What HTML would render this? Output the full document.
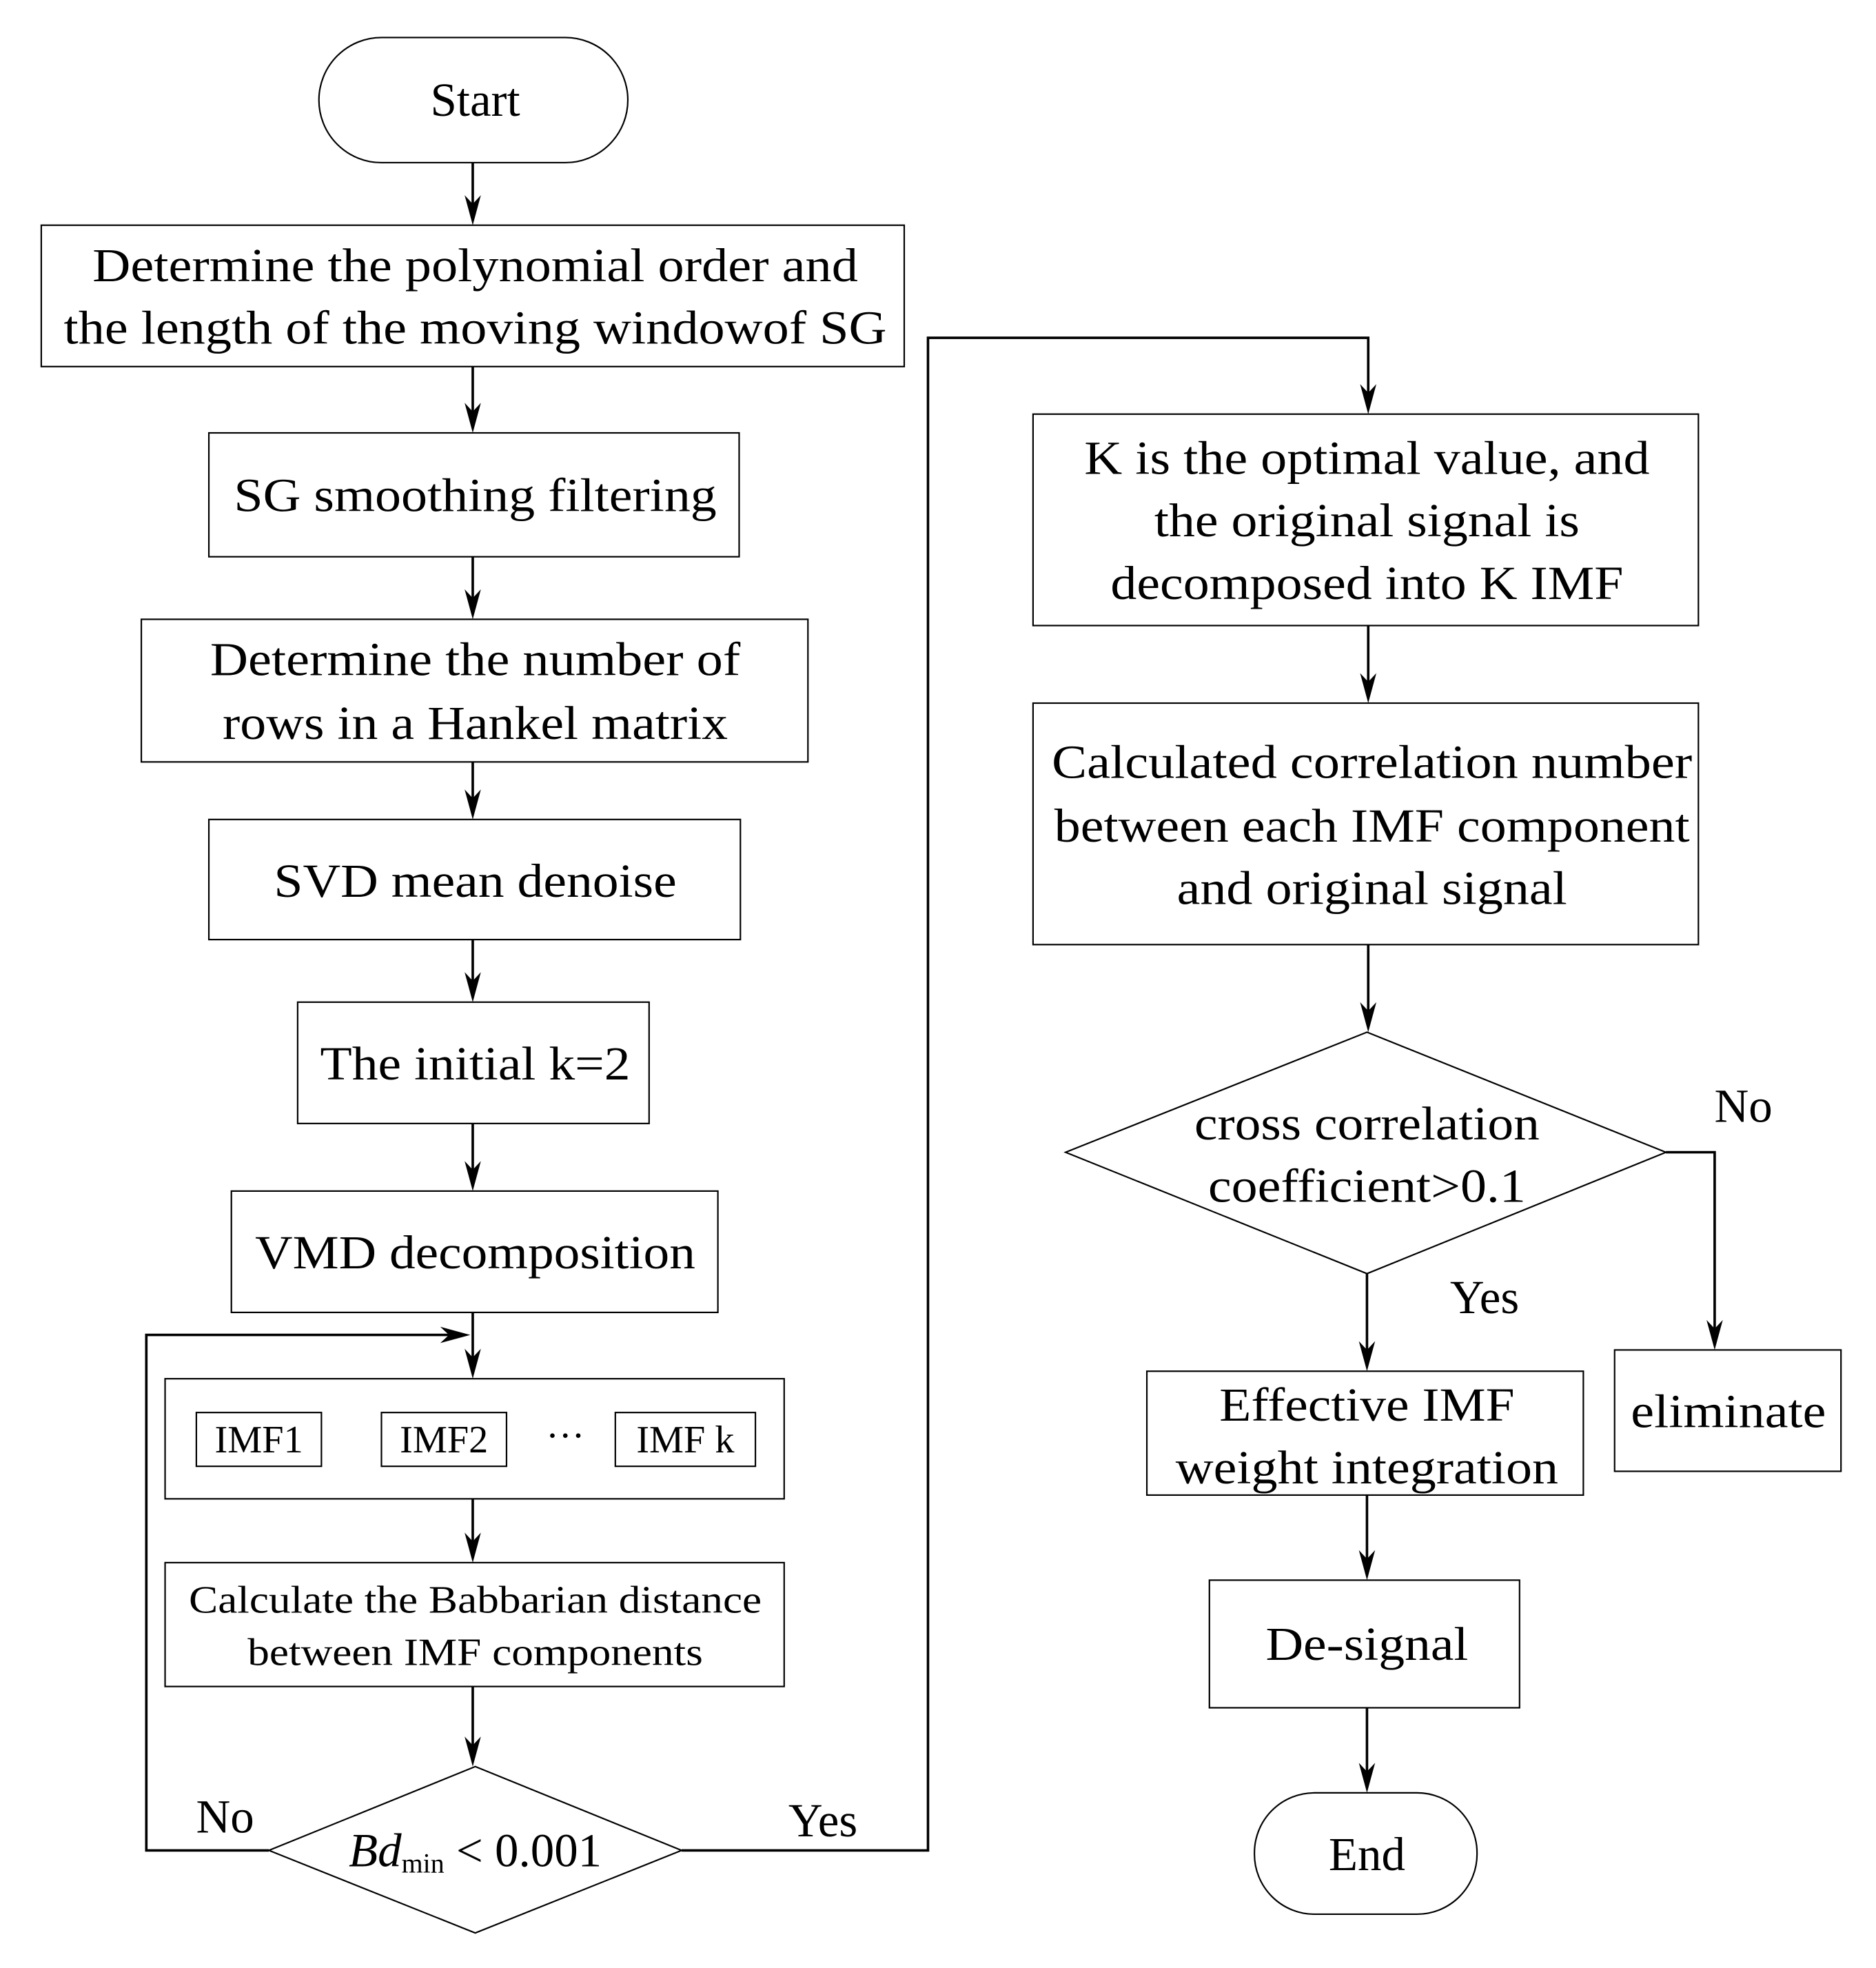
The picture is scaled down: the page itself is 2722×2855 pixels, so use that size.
<!DOCTYPE html>
<html><head><style>html,body{margin:0;padding:0;background:#fff}svg{display:block}</style></head>
<body>
<svg width="2722" height="2855" viewBox="0 0 1500 1573" preserveAspectRatio="none" xmlns="http://www.w3.org/2000/svg" xmlns:xlink="http://www.w3.org/1999/xlink" style="font-family:'Liberation Serif',serif" fill="#000">
<defs>
<path id="d" d="M-6.5 -24 L0 0 L6.5 -24 L0 -17 Z" fill="#000"/>
<path id="rt" d="M-24 -6.5 L0 0 L-24 6.5 L-17 0 Z" fill="#000"/>
</defs>
<g fill="none" stroke="#000" stroke-width="1.2">
<rect x="255" y="30" width="247" height="100" rx="50"/>
<rect x="33" y="180" width="690" height="113"/>
<rect x="167" y="346" width="424" height="99"/>
<rect x="113" y="495" width="533" height="114"/>
<rect x="167" y="655" width="425" height="96"/>
<rect x="238" y="801" width="281" height="97"/>
<rect x="185" y="952" width="389" height="97"/>
<rect x="132" y="1102" width="495" height="96"/>
<rect x="157" y="1129" width="100" height="43"/>
<rect x="305" y="1129" width="100" height="43"/>
<rect x="492" y="1129" width="112" height="43"/>
<rect x="132" y="1249" width="495" height="99"/>
<polygon points="380,1412 545,1479 380,1545 215,1479"/>
<rect x="826" y="331" width="532" height="169"/>
<rect x="826" y="562" width="532" height="193"/>
<polygon points="1093,825 1332,921 1093,1018 852,921"/>
<rect x="1291" y="1079" width="181" height="97"/>
<rect x="917" y="1096" width="349" height="99"/>
<rect x="967" y="1263" width="248" height="102"/>
<rect x="1003" y="1433" width="178" height="97" rx="48"/>
</g>
<g fill="none" stroke="#000" stroke-width="2">
<line x1="378" y1="130" x2="378" y2="170"/>
<line x1="378" y1="293" x2="378" y2="336"/>
<line x1="378" y1="445" x2="378" y2="485"/>
<line x1="378" y1="609" x2="378" y2="645"/>
<line x1="378" y1="751" x2="378" y2="791"/>
<line x1="378" y1="898" x2="378" y2="942"/>
<line x1="378" y1="1049" x2="378" y2="1092"/>
<polyline points="215,1479 117,1479 117,1067 368,1067"/>
<line x1="378" y1="1198" x2="378" y2="1239"/>
<line x1="378" y1="1348" x2="378" y2="1402"/>
<polyline points="545,1479 742,1479 742,270 1094,270 1094,321"/>
<line x1="1094" y1="500" x2="1094" y2="552"/>
<line x1="1094" y1="755" x2="1094" y2="815"/>
<polyline points="1332,921 1371,921 1371,1069"/>
<line x1="1093" y1="1018" x2="1093" y2="1086"/>
<line x1="1093" y1="1195" x2="1093" y2="1253"/>
<line x1="1093" y1="1365" x2="1093" y2="1423"/>
</g>
<use xlink:href="#d" x="378" y="180"/>
<use xlink:href="#d" x="378" y="346"/>
<use xlink:href="#d" x="378" y="495"/>
<use xlink:href="#d" x="378" y="655"/>
<use xlink:href="#d" x="378" y="801"/>
<use xlink:href="#d" x="378" y="952"/>
<use xlink:href="#d" x="378" y="1102"/>
<use xlink:href="#rt" x="376" y="1067"/>
<use xlink:href="#d" x="378" y="1249"/>
<use xlink:href="#d" x="378" y="1412"/>
<use xlink:href="#d" x="1094" y="331"/>
<use xlink:href="#d" x="1094" y="562"/>
<use xlink:href="#d" x="1094" y="825"/>
<use xlink:href="#d" x="1371" y="1079"/>
<use xlink:href="#d" x="1093" y="1096"/>
<use xlink:href="#d" x="1093" y="1263"/>
<use xlink:href="#d" x="1093" y="1433"/>
<g font-size="38" text-anchor="middle" dominant-baseline="central">
<text x="380" y="80">Start</text>
<text x="380" y="212" textLength="612" lengthAdjust="spacingAndGlyphs">Determine the polynomial order and</text>
<text x="380" y="262" textLength="658" lengthAdjust="spacingAndGlyphs">the length of the moving windowof SG</text>
<text x="380" y="396" textLength="386" lengthAdjust="spacingAndGlyphs">SG smoothing filtering</text>
<text x="380" y="527" textLength="424" lengthAdjust="spacingAndGlyphs">Determine the number of</text>
<text x="380" y="578" textLength="404" lengthAdjust="spacingAndGlyphs">rows in a Hankel matrix</text>
<text x="380" y="704" textLength="322" lengthAdjust="spacingAndGlyphs">SVD mean denoise</text>
<text x="380" y="850" textLength="248" lengthAdjust="spacingAndGlyphs">The initial k=2</text>
<text x="380" y="1001" textLength="352" lengthAdjust="spacingAndGlyphs">VMD decomposition</text>
<g font-size="31">
<text x="207" y="1151">IMF1</text>
<text x="355" y="1151">IMF2</text>
<text x="452" y="1148">···</text>
<text x="548" y="1151">IMF k</text>
<text x="380" y="1279" textLength="458" lengthAdjust="spacingAndGlyphs">Calculate the Babbarian distance</text>
<text x="380" y="1321" textLength="364" lengthAdjust="spacingAndGlyphs">between IMF components</text>
</g>
<text x="380" y="1479"><tspan font-style="italic">Bd</tspan><tspan font-size="22" dy="10">min</tspan><tspan dy="-10"> &lt; 0.001</tspan></text>
<text x="180" y="1452">No</text>
<text x="658" y="1455">Yes</text>
<text x="1093" y="366" textLength="452" lengthAdjust="spacingAndGlyphs">K is the optimal value, and</text>
<text x="1093" y="416" textLength="340" lengthAdjust="spacingAndGlyphs">the original signal is</text>
<text x="1093" y="466" textLength="410" lengthAdjust="spacingAndGlyphs">decomposed into K IMF</text>
<text x="1097" y="609" textLength="512" lengthAdjust="spacingAndGlyphs">Calculated correlation number</text>
<text x="1097" y="660" textLength="508" lengthAdjust="spacingAndGlyphs">between each IMF component</text>
<text x="1097" y="710" textLength="312" lengthAdjust="spacingAndGlyphs">and original signal</text>
<text x="1093" y="898" textLength="276" lengthAdjust="spacingAndGlyphs">cross correlation</text>
<text x="1093" y="948" textLength="254" lengthAdjust="spacingAndGlyphs">coefficient&gt;0.1</text>
<text x="1394" y="884">No</text>
<text x="1187" y="1037">Yes</text>
<text x="1382" y="1128" textLength="156" lengthAdjust="spacingAndGlyphs">eliminate</text>
<text x="1093" y="1123" textLength="236" lengthAdjust="spacingAndGlyphs">Effective IMF</text>
<text x="1093" y="1173" textLength="306" lengthAdjust="spacingAndGlyphs">weight integration</text>
<text x="1093" y="1314" textLength="162" lengthAdjust="spacingAndGlyphs">De-signal</text>
<text x="1093" y="1482">End</text>
</g>
</svg>
</body></html>
